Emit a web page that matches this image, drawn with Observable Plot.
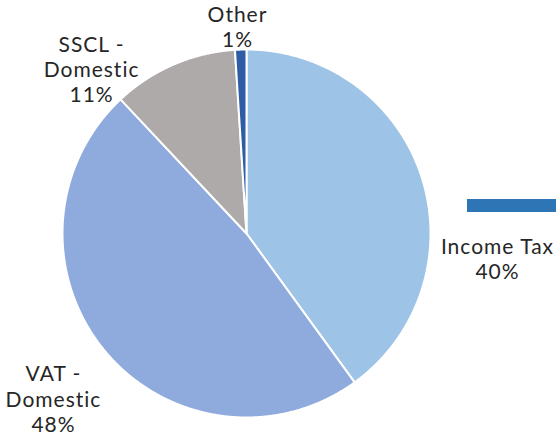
<!DOCTYPE html>
<html><head><meta charset="utf-8">
<script src="https://cdn.jsdelivr.net/npm/d3@7"></script>
<script src="https://cdn.jsdelivr.net/npm/@observablehq/plot@0.6"></script>
<style>
html,body{margin:0;padding:0;background:#fff;}
#wrap{position:relative;width:556px;height:438px;overflow:hidden;}
#legend{position:absolute;left:467px;top:199px;width:95px;height:13px;background:#2E75B6;}
</style>
</head><body>
<div id="wrap"><div id="chart"></div><div id="legend"></div></div>
<script>
const categories = ["Income Tax", "VAT - Domestic", "SSCL - Domestic", "Other"];
const values = [40, 48, 11, 1];
const colors = ["#9DC3E6", "#8FAADC", "#AEAAAA", "#2E5DA6"];
const labels = ["Income Tax\n40%", "VAT -\nDomestic\n48%", "SSCL -\nDomestic\n11%", "Other\n1%"];
// label centres in data units (pie radius = 1)
const labelX = [1.364, -1.049, -0.842, -0.049];
const labelY = [-0.136, -0.897, 0.895, 1.125];

const pie = d3.pie().sort(null).value(d => d)(values);
const pts = [];
pie.forEach((a, i) => {
  pts.push({k: categories[i], x: 0, y: 0});
  const n = Math.max(4, Math.ceil((a.endAngle - a.startAngle) / 0.005));
  for (let j = 0; j <= n; j++) {
    const t = a.startAngle + (a.endAngle - a.startAngle) * j / n;
    pts.push({k: categories[i], x: Math.sin(t), y: Math.cos(t)});
  }
});
const labelData = categories.map((c, i) => ({k: c, t: labels[i], x: labelX[i], y: labelY[i]}));

const chart = Plot.plot({
  width: 556, height: 438,
  margin: 0,
  x: {domain: [-1, 1], range: [62, 430], axis: null},
  y: {domain: [-1, 1], range: [417, 49], axis: null},
  color: {domain: categories, range: colors},
  style: {fontFamily: "Lato, sans-serif", background: "#fff", letterSpacing: "1px"},
  marks: [
    Plot.line(pts, {x: "x", y: "y", z: "k", fill: "k", stroke: "#fff", strokeWidth: 2, curve: "linear-closed", strokeLinejoin: "round",
      style: "filter: drop-shadow(0px 0px 2px rgba(0,0,0,0.18))"}),
    Plot.text(labelData, {x: "x", y: "y", text: "t", fontSize: 21, fontWeight: 400, lineHeight: 1.2, fill: "#262626", textAnchor: "middle"})
  ]
});
document.getElementById("chart").appendChild(chart);
</script>
</body></html>
